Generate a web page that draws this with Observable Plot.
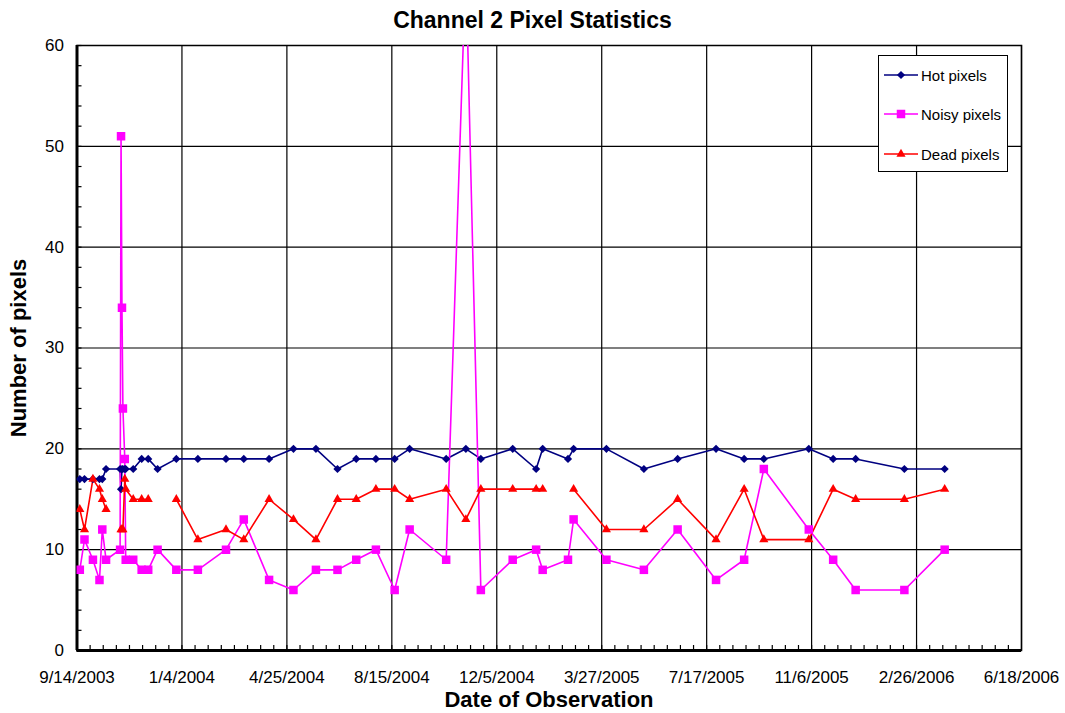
<!DOCTYPE html>
<html><head><meta charset="utf-8">
<script src="https://cdn.jsdelivr.net/npm/d3@7"></script>
<script src="https://cdn.jsdelivr.net/npm/@observablehq/plot@0.6"></script>
<style>
body{margin:0;background:#fff;font-family:"Liberation Sans",Arial,sans-serif;color:#000;}
#wrap{position:relative;width:1065px;height:713px;overflow:hidden;}
#title{height:36px;line-height:40px;text-align:center;font-weight:bold;font-size:23px;}
#chart svg{display:block;}
#xlabel{position:absolute;left:77px;width:944px;top:688px;text-align:center;font-weight:bold;font-size:22px;line-height:24px;}
#legend{position:absolute;left:878px;top:55px;width:130px;height:117px;border:1px solid #000;background:#fff;box-sizing:border-box;}
.lrow{position:absolute;left:5px;height:20px;display:flex;align-items:center;font-size:15px;white-space:nowrap;}
.lrow svg{margin-right:3px;}
</style></head><body>
<div id="wrap">
<div id="title">Channel 2 Pixel Statistics</div>
<div id="chart"></div>
<div id="xlabel">Date of Observation</div>
<div id="legend"></div>
</div>
<script>
const dates = [
 "2003-09-17","2003-09-22","2003-10-01","2003-10-08","2003-10-11","2003-10-15",
 "2003-10-30","2003-10-31","2003-11-01","2003-11-02","2003-11-04","2003-11-05",
 "2003-11-13","2003-11-22","2003-11-29","2003-12-09","2003-12-29",
 "2004-01-21","2004-02-20","2004-03-10","2004-04-06","2004-05-02","2004-05-26","2004-06-18","2004-07-08","2004-07-29","2004-08-18","2004-09-03","2004-10-12","2004-11-02","2004-11-18","2004-12-22",
 "2005-01-16","2005-01-23","2005-02-19","2005-02-25","2005-04-01","2005-05-11","2005-06-16","2005-07-27","2005-08-26","2005-09-16","2005-11-03","2005-11-29","2005-12-23",
 "2006-02-13","2006-03-28"
];
const hotPixels = [17,17,17,17,17,18, 18,16,18,18,18,18, 18,19,19,18,19,
 19,19,19,19,20,20,18,19,19,19,20,19,20,19,20,
 18,20,19,20,20,18,19,20,19,19,20,19,19,
 18,18];
const noisyPixels = [8,11,9,7,12,9, 10,51,34,24,19,9, 9,8,8,10,8,
 8,10,13,7,6,8,8,9,10,6,12,9,68,6,9,
 10,8,9,13,9,8,12,7,9,18,12,9,6,
 6,10];
const deadPixels = [14,12,17,16,15,14, null,12,12,12,17,16, 15,15,15,null,15,
 11,12,11,15,13,11,15,15,16,16,15,16,13,16,16,
 16,16,null,16,12,12,15,11,16,11,11,16,15,
 15,16];
const seriesNames = ["Hot pixels","Noisy pixels","Dead pixels"];
const seriesColors = ["#000080","#FF00FF","#FF0000"];
const xTickLabels = ["9/14/2003","1/4/2004","4/25/2004","8/15/2004","12/5/2004","3/27/2005","7/17/2005","11/6/2005","2/26/2006","6/18/2006"];
const yTicks = [0,10,20,30,40,50,60];

const parseTick = d3.utcParse("%m/%d/%Y");
const majorDates = xTickLabels.map(parseTick);
const x0 = majorDates[0], x1 = majorDates[majorDates.length-1];
const minorDates = d3.utcDay.range(x0, x1, 14);
const minorY = d3.range(0, 61, 2);

const seriesValues = [hotPixels, noisyPixels, deadPixels];
const rows = [];
seriesNames.forEach((s, k) => dates.forEach((d, i) => rows.push({date: new Date(d + "T00:00:00Z"), series: s, value: seriesValues[k][i]})));

const symbols = {"Hot pixels": ["diamond2", 3.7], "Noisy pixels": ["square", 4.8], "Dead pixels": ["triangle", 3.4]};
const d3symbols = {"Hot pixels": d3.symbolDiamond2, "Noisy pixels": d3.symbolSquare, "Dead pixels": d3.symbolTriangle};

const W = 1065, H = 654, mT = 9, mB = 40, mL = 76.5, mR = 44;
const plotH = H - mT - mB, plotW = W - mL - mR;

const marks = [
  Plot.gridY(yTicks, {stroke: "#000", strokeOpacity: 1, strokeWidth: 1.2}),
  Plot.gridX(majorDates, {stroke: "#000", strokeOpacity: 1, strokeWidth: 1.2}),
  Plot.frame({stroke: "#000", strokeWidth: 1.5}),
  Plot.tickX(minorDates, {x: d => d, stroke: "#000", strokeWidth: 1.2, insetTop: plotH - 5}),
  Plot.tickY(minorY, {y: d => d, stroke: "#000", strokeWidth: 1.2, insetRight: plotW - 5}),
  Plot.ruleX([x0], {stroke: "#000", strokeWidth: 3}),
  Plot.ruleY([0], {stroke: "#000", strokeWidth: 3}),
  Plot.axisX(majorDates, {tickSize: 0, tickPadding: 20, tickFormat: d3.utcFormat("%-m/%-d/%Y"), fontSize: 17, label: null}),
  Plot.axisY(yTicks, {tickSize: 0, tickPadding: 13, fontSize: 17, label: null}),
  Plot.text(["Number of pixels"], {frameAnchor: "left", dx: -58, rotate: -90, fontSize: 22, fontWeight: "bold", textAnchor: "middle"})
];
seriesNames.forEach((s, k) => {
  const data = rows.filter(r => r.series === s);
  marks.push(Plot.line(data, {x: "date", y: "value", stroke: seriesColors[k], strokeWidth: 1.6, clip: true}));
});
seriesNames.forEach((s, k) => {
  const data = rows.filter(r => r.series === s && r.value != null);
  marks.push(Plot.dot(data, {x: "date", y: "value", fill: seriesColors[k], symbol: symbols[s][0], r: symbols[s][1], clip: true}));
});

const chart = Plot.plot({
  width: W, height: H, marginTop: mT, marginBottom: mB, marginLeft: mL, marginRight: mR,
  style: {fontFamily: "'Liberation Sans', Arial, sans-serif", fontSize: "17px", color: "#000", background: "#fff"},
  x: {type: "utc", domain: [x0, x1]},
  y: {domain: [0, 60]},
  marks
});
document.getElementById("chart").appendChild(chart);

const legend = document.getElementById("legend");
const rowTops = [9, 48, 88];
seriesNames.forEach((s, k) => {
  const row = document.createElement("div");
  row.className = "lrow";
  row.style.top = rowTops[k] + "px";
  const r = symbols[s][1];
  const path = d3.symbol(d3symbols[s], Math.PI * r * r)();
  row.innerHTML = `<svg width="34" height="16"><line x1="0" x2="34" y1="8" y2="8" stroke="${seriesColors[k]}" stroke-width="1.6"/><path transform="translate(17,8)" d="${path}" fill="${seriesColors[k]}"/></svg><span>${s}</span>`;
  legend.appendChild(row);
});
</script>
</body></html>
